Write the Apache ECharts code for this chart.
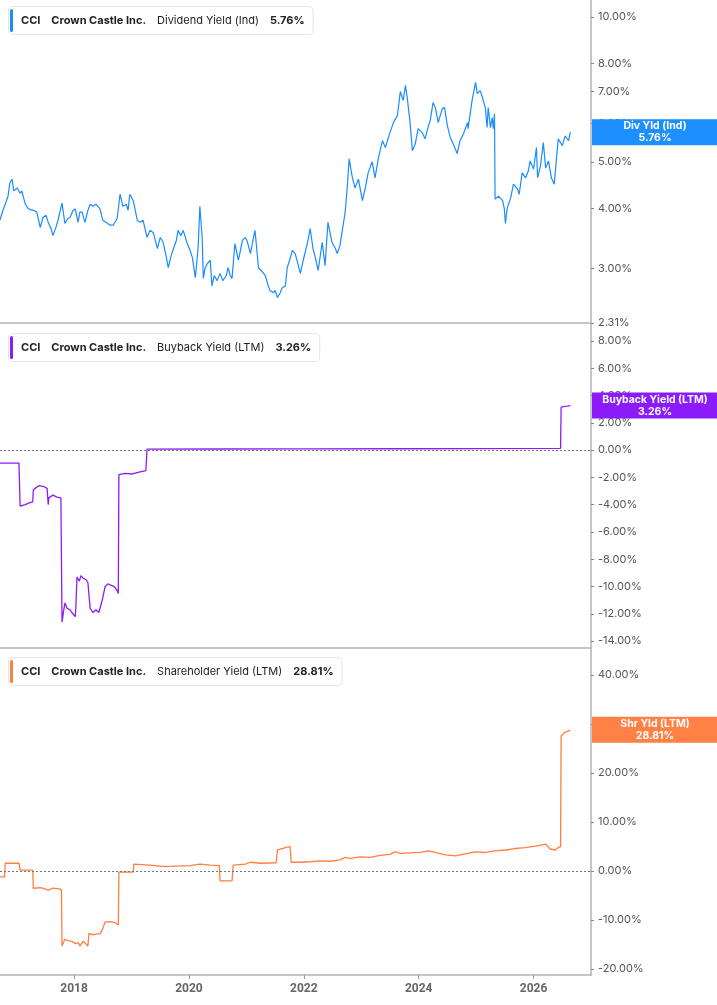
<!DOCTYPE html>
<html><head><meta charset="utf-8">
<script src="https://cdn.jsdelivr.net/npm/echarts@6/dist/echarts.min.js"></script>
<style>html,body{margin:0;padding:0;background:#fff}#c{width:717px;height:1005px}</style>
</head><body><div id="c"></div>
<script>
// ---------- Data ----------
const xTickYears = [2018, 2020, 2022, 2024, 2026];
const divTicks = [2.31, 3, 4, 5, 6, 7, 8, 10];
const bbTicks = [-14, -12, -10, -8, -6, -4, -2, 0, 2, 4, 6, 8];
const shTicks = [-20, -10, 0, 10, 20, 30, 40];

const divYears = [
2016.71,2016.76,2016.80,2016.85,2016.88,2016.92,2016.95,2017.01,2017.06,2017.09,
2017.15,2017.20,2017.25,2017.30,2017.35,2017.41,2017.46,2017.51,2017.55,2017.60,
2017.63,2017.69,2017.72,2017.79,2017.84,2017.89,2017.93,2017.98,2018.02,2018.07,
2018.10,2018.14,2018.19,2018.24,2018.28,2018.33,2018.38,2018.45,2018.50,2018.56,
2018.63,2018.68,2018.75,2018.80,2018.85,2018.91,2018.94,2018.97,2019.03,2019.10,
2019.15,2019.20,2019.27,2019.32,2019.38,2019.45,2019.50,2019.55,2019.60,2019.64,
2019.69,2019.72,2019.78,2019.81,2019.86,2019.90,2019.97,2020.02,2020.06,2020.11,
2020.14,2020.16,2020.19,2020.23,2020.25,2020.28,2020.32,2020.37,2020.40,2020.44,
2020.49,2020.54,2020.59,2020.65,2020.68,2020.72,2020.75,2020.80,2020.86,2020.89,
2020.93,2020.98,2021.01,2021.07,2021.12,2021.15,2021.21,2021.26,2021.33,2021.38,
2021.41,2021.47,2021.50,2021.54,2021.59,2021.62,2021.68,2021.71,2021.76,2021.80,
2021.85,2021.88,2021.94,2021.99,2022.06,2022.11,2022.16,2022.22,2022.25,2022.32,
2022.37,2022.42,2022.49,2022.55,2022.58,2022.63,2022.67,2022.72,2022.76,2022.79,
2022.84,2022.89,2022.95,2023.02,2023.07,2023.12,2023.19,2023.24,2023.30,2023.37,
2023.42,2023.47,2023.50,2023.56,2023.63,2023.68,2023.73,2023.77,2023.80,2023.85,
2023.89,2023.94,2023.99,2024.06,2024.11,2024.17,2024.20,2024.25,2024.29,2024.34,
2024.41,2024.45,2024.50,2024.55,2024.60,2024.67,2024.72,2024.78,2024.85,2024.86,
2024.93,2024.99,2025.02,2025.07,2025.11,2025.16,2025.19,2025.21,2025.25,2025.28,
2025.30,2025.32,2025.33,2025.39,2025.46,2025.49,2025.51,2025.54,2025.60,2025.65,
2025.72,2025.75,2025.80,2025.86,2025.91,2025.94,2026.00,2026.05,2026.07,2026.12,
2026.17,2026.21,2026.26,2026.31,2026.36,2026.40,2026.43,2026.50,2026.55,2026.61,2026.64];
const divValues = [
3.78,3.96,4.08,4.24,4.51,4.60,4.35,4.41,4.30,4.35,
4.08,4.00,3.97,3.96,3.93,3.65,3.83,3.87,3.74,3.63,
3.51,3.67,3.78,4.10,3.72,3.81,3.83,3.96,3.99,3.74,
3.93,3.93,3.74,3.96,4.08,4.04,4.08,3.99,3.78,3.74,
3.69,3.69,3.81,4.28,4.04,4.08,3.96,4.28,4.15,3.78,
3.74,3.78,3.48,3.60,3.56,3.30,3.48,3.40,3.19,3.01,
3.19,3.27,3.43,3.60,3.51,3.60,3.38,3.27,3.16,2.87,
3.12,3.32,4.04,3.48,2.86,3.00,3.07,3.12,2.76,2.90,
2.83,2.93,2.83,2.90,3.01,2.90,2.86,3.38,3.12,3.24,
3.43,3.48,3.43,3.22,3.46,3.60,3.01,2.97,2.90,2.76,
2.70,2.67,2.70,2.61,2.67,2.73,2.76,3.01,3.14,3.27,
3.22,3.19,2.93,3.12,3.38,3.63,3.30,3.09,2.97,3.40,
3.04,3.74,3.40,3.30,3.22,3.35,3.60,3.93,4.49,5.07,
4.67,4.41,4.60,4.15,4.41,4.74,5.00,4.63,5.10,5.53,
5.35,5.61,5.75,6.03,6.24,7.00,6.71,7.21,6.80,6.03,
5.27,5.45,5.86,5.75,5.58,5.94,6.09,6.64,6.48,6.03,
6.45,6.48,5.94,5.61,5.45,5.20,5.53,5.72,6.03,5.86,
6.71,7.31,6.93,7.03,6.80,6.48,5.89,6.48,5.89,6.18,
5.86,6.30,4.18,4.24,4.15,4.00,3.72,4.00,4.20,4.49,
4.39,4.28,4.74,4.63,4.79,5.02,4.83,5.35,4.63,4.90,
5.48,4.85,5.02,4.63,4.49,5.10,5.58,5.40,5.66,5.53,5.76];

const bbYears = [2016.71,2017.04,2017.06,2017.15,2017.23,2017.28,2017.29,2017.34,2017.39,2017.46,
2017.53,2017.55,2017.56,2017.63,2017.70,2017.77,2017.79,2017.81,2017.84,2017.88,
2017.93,2017.96,2018.02,2018.03,2018.05,2018.09,2018.12,2018.16,2018.21,2018.24,
2018.26,2018.28,2018.33,2018.38,2018.43,2018.49,2018.54,2018.59,2018.64,2018.70,
2018.75,2018.77,2018.78,2018.89,2019.01,2019.15,2019.25,2019.27,2020.50,2022.00,
2023.68,2025.00,2026.47,2026.48,2026.54,2026.59,2026.64];
const bbValues = [-0.95,-0.95,-4.1,-4.0,-3.85,-3.8,-2.9,-2.75,-2.6,-2.65,
-2.8,-4.0,-3.5,-3.3,-3.45,-3.5,-12.6,-12.0,-11.2,-11.6,
-11.7,-11.9,-12.2,-11.6,-9.3,-9.6,-9.2,-9.4,-9.5,-9.7,
-9.6,-11.6,-11.9,-11.7,-11.9,-11.0,-10.0,-9.8,-9.9,-10.0,
-10.3,-10.5,-1.8,-1.7,-1.75,-1.6,-1.5,0.07,0.08,0.09,
0.1,0.11,0.12,3.15,3.2,3.22,3.26];

const shYears = [2016.71,2016.79,2016.80,2017.04,2017.06,2017.28,2017.29,2017.41,2017.48,2017.55,
2017.62,2017.72,2017.78,2017.79,2017.84,2017.89,2017.96,2018.02,2018.07,2018.10,
2018.16,2018.19,2018.24,2018.26,2018.33,2018.40,2018.45,2018.49,2018.54,2018.63,
2018.71,2018.77,2018.78,2019.03,2019.04,2019.32,2019.58,2019.76,2020.02,2020.19,
2020.37,2020.53,2020.54,2020.75,2020.77,2020.98,2021.07,2021.24,2021.52,2021.54,
2021.62,2021.71,2021.76,2021.78,2021.94,2022.11,2022.28,2022.46,2022.63,2022.72,
2022.81,2022.98,2023.16,2023.33,2023.50,2023.59,2023.68,2023.85,2024.03,2024.17,
2024.29,2024.46,2024.64,2024.81,2024.99,2025.16,2025.33,2025.51,2025.68,2025.86,
2026.03,2026.21,2026.29,2026.38,2026.43,2026.47,2026.48,2026.54,2026.57,2026.61,2026.64];
const shValues = [-1.2,-1.2,1.6,1.6,0.2,0.2,-3.5,-3.4,-3.6,-3.9,
-3.5,-3.6,-3.8,-15.3,-13.9,-14.2,-14.3,-14.8,-14.6,-15.3,
-14.3,-14.5,-15.3,-12.7,-13.0,-12.8,-12.8,-12.0,-10.4,-10.3,
-10.5,-11.0,-0.2,-0.2,1.4,1.2,0.9,1.0,1.1,1.4,
1.2,1.1,-2.0,-2.0,1.2,1.4,1.8,1.6,1.7,4.3,
4.6,4.9,5.0,1.8,1.8,1.9,2.1,2.0,2.3,2.8,
2.6,2.9,2.8,3.2,3.4,3.9,3.6,3.7,3.8,4.1,
3.8,3.3,3.1,3.5,3.9,3.8,4.1,4.3,4.6,4.8,
5.1,5.5,4.5,4.3,4.8,5.0,27.5,28.3,27.9,28.6,28.81];

const lastDiv = 5.76, lastBb = 3.26, lastSh = 28.81;

// ---------- Style ----------
const BLUE = '#1a8cff', PURPLE = '#8b1cf7', ORANGE = '#ff7f40';
const X_MIN = 2016.71, X_MAX = 2027.0;
const FONT = 'Inter';
const pct = v => (+v).toFixed(2) + '%';
const pair = (xs, ys) => xs.map((t, i) => [t, ys[i]]);

const chart = echarts.init(document.getElementById('c'), null, {renderer: 'canvas'});

const grids = [
  {left: 0, right: 126, top: 0, height: 323},
  {left: 0, right: 126, top: 324, height: 324},
  {left: 0, right: 126, top: 649, height: 326}
];

function xAx(i) {
  const last = i === 2;
  return {
    gridIndex: i, type: 'value', min: X_MIN, max: X_MAX,
    splitLine: {show: false},
    axisLine: {show: true, onZero: false, lineStyle: {color: '#b3b3b3', width: 1.5}},
    axisTick: {show: last, customValues: xTickYears, length: 4, lineStyle: {color: '#999'}},
    axisLabel: {show: last, customValues: xTickYears, formatter: v => String(Math.round(v)),
      color: '#666', fontWeight: 'bold', fontSize: 12, fontFamily: 'Roboto', margin: 8}
  };
}
function yAx(i, type, min, max, ticks) {
  const o = {
    gridIndex: i, type, position: 'right', min, max,
    splitLine: {show: false},
    axisLine: {show: true, lineStyle: {color: '#b3b3b3', width: 1.5}},
    axisTick: {show: true, customValues: ticks, length: 3, lineStyle: {color: '#888'}},
    axisLabel: {customValues: ticks, formatter: v => pct(v), color: '#555',
      fontSize: 11, fontFamily: FONT, margin: 7}
  };
  if (type === 'log') o.logBase = 10;
  return o;
}
const zeroLine = {silent: true, symbol: 'none', label: {show: false},
  lineStyle: {type: [2, 2], color: '#777', width: 1.2}, data: [{yAxis: 0}]};

chart.setOption({
  animation: false,
  grid: grids,
  xAxis: [xAx(0), xAx(1), xAx(2)],
  yAxis: [
    yAx(0, 'log', 2.31, 10.85, divTicks),
    yAx(1, 'value', -14.5, 9.24, bbTicks),
    yAx(2, 'value', -21.2, 45.3, shTicks)
  ],
  series: [
    {type: 'line', xAxisIndex: 0, yAxisIndex: 0, data: pair(divYears, divValues),
      showSymbol: false, symbol: 'none', lineStyle: {color: BLUE, width: 1.2}, itemStyle: {color: BLUE}},
    {type: 'line', xAxisIndex: 1, yAxisIndex: 1, data: pair(bbYears, bbValues),
      showSymbol: false, symbol: 'none', lineStyle: {color: PURPLE, width: 1.3}, itemStyle: {color: PURPLE},
      markLine: zeroLine},
    {type: 'line', xAxisIndex: 2, yAxisIndex: 2, data: pair(shYears, shValues),
      showSymbol: false, symbol: 'none', lineStyle: {color: ORANGE, width: 1.3}, itemStyle: {color: ORANGE},
      markLine: zeroLine}
  ]
});

function legendBox(top, color, metric, val) {
  return {
    type: 'text', left: 8, top: top, z: 200, zlevel: 1,
    style: {
      text: '{bar|}{c|CCI}{b|Crown Castle Inc.}{n|' + metric + '}{b|' + val + '}',
      backgroundColor: '#fff', borderColor: '#e4e4e4', borderWidth: 1, borderRadius: 4,
      padding: [2, 8, 2, 1],
      rich: {
        bar: {width: 3, height: 23, backgroundColor: color, borderRadius: 1.5},
        c: {fontFamily: FONT, fontSize: 11, fontWeight: 'bold', fill: '#222', padding: [0, 0, 0, 8]},
        b: {fontFamily: FONT, fontSize: 11, fontWeight: 'bold', fill: '#222', padding: [0, 0, 0, 11]},
        n: {fontFamily: FONT, fontSize: 11, fontWeight: 'normal', fill: '#222', padding: [0, 0, 0, 11]}
      }
    }
  };
}
function tag(yAxisIndex, value, color, name) {
  const yc = chart.convertToPixel({yAxisIndex: yAxisIndex}, value);
  return [
    {type: 'rect', z: 200, zlevel: 1, shape: {x: 592, y: yc - 13, width: 125, height: 26}, style: {fill: color}},
    {type: 'text', z: 201, zlevel: 1, x: 655, y: yc, style: {
      text: name + '\n' + pct(value), fill: '#fff', font: 'bold 10.5px Inter',
      align: 'center', verticalAlign: 'middle', textAlign: 'center', textVerticalAlign: 'middle', lineHeight: 12}}
  ];
}

chart.setOption({
  graphic: [
    legendBox(6, BLUE, 'Dividend Yield (Ind)', pct(lastDiv)),
    legendBox(333, PURPLE, 'Buyback Yield (LTM)', pct(lastBb)),
    legendBox(657, ORANGE, 'Shareholder Yield (LTM)', pct(lastSh))
  ].concat(
    tag(0, lastDiv, '#1e8fff', 'Div Yld (Ind)'),
    tag(1, lastBb, '#8c1bfa', 'Buyback Yield (LTM)'),
    tag(2, lastSh, '#ff8145', 'Shr Yld (LTM)')
  )
});
</script>
</body></html>
